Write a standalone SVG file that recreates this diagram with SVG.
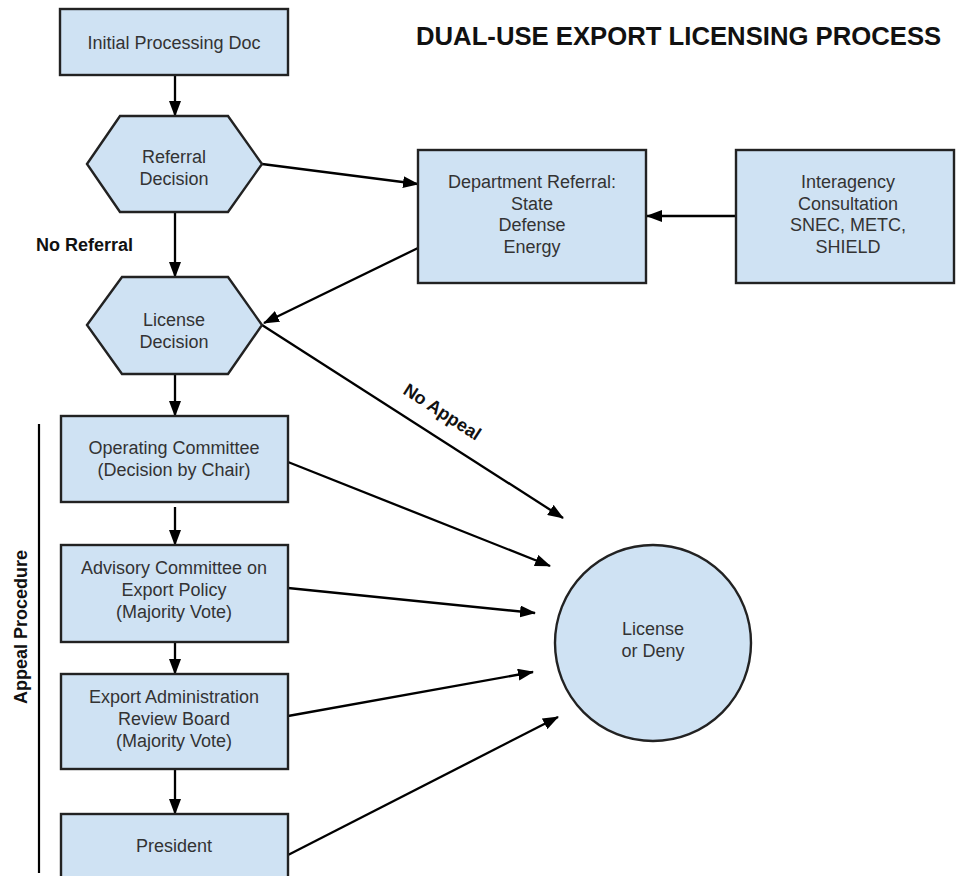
<svg xmlns="http://www.w3.org/2000/svg" width="956" height="876" viewBox="0 0 956 876">
<defs>
<marker id="ah" viewBox="0 0 16 12" refX="15" refY="6" markerWidth="16" markerHeight="12" markerUnits="userSpaceOnUse" orient="auto">
<path d="M0,0 L16,6 L0,12 z" fill="#000"/>
</marker>
<style>
.n{fill:#cfe2f3;stroke:#222;stroke-width:2.4}
.t{font-family:"Liberation Sans",Arial,sans-serif;font-size:18px;fill:#333;text-anchor:middle}
.b{font-family:"Liberation Sans",Arial,sans-serif;font-size:18px;font-weight:bold;fill:#111}
.c{fill:none;stroke:#000;stroke-width:2.3;marker-end:url(#ah)}
</style>
</defs>
<rect width="956" height="876" fill="#fff"/>
<text x="416" y="45" font-family="'Liberation Sans',Arial,sans-serif" font-size="25.7" font-weight="bold" fill="#111">DUAL-USE EXPORT LICENSING PROCESS</text>
<g id="connectors">
<line class="c" x1="175" y1="75" x2="175" y2="116"/>
<line class="c" x1="262" y1="164" x2="418" y2="184"/>
<line class="c" x1="736" y1="216" x2="647" y2="216"/>
<line class="c" x1="175" y1="212" x2="175" y2="277"/>
<line class="c" x1="418" y1="248" x2="264" y2="323"/>
<line class="c" x1="175" y1="374" x2="175" y2="416"/>
<line class="c" x1="262" y1="325" x2="563" y2="518"/>
<line class="c" x1="175" y1="507" x2="175" y2="545"/>
<line class="c" x1="175" y1="643" x2="175" y2="674"/>
<line class="c" x1="175" y1="770" x2="175" y2="814"/>
<line class="c" x1="288" y1="462" x2="550" y2="566"/>
<line class="c" x1="288" y1="588" x2="535" y2="613"/>
<line class="c" x1="288" y1="716" x2="533" y2="672"/>
<line class="c" x1="288" y1="855" x2="558" y2="717"/>
<text class="b" transform="translate(439,417) rotate(33)" text-anchor="middle">No Appeal</text>
<text class="b" x="36" y="251">No Referral</text>
</g>
<g id="appeal-procedure">
<line x1="39" y1="424" x2="39" y2="873" stroke="#000" stroke-width="2.2"/>
<text class="b" transform="translate(27,627) rotate(-90)" text-anchor="middle">Appeal Procedure</text>
</g>
<g id="initial">
<rect class="n" x="60" y="9" width="228" height="66"/>
<text class="t" x="174" y="49">Initial Processing Doc</text>
</g>
<g id="referral-decision">
<polygon class="n" points="87,164 120,116 228,116 262,164 228,212 120,212"/>
<text class="t" x="174" y="163">Referral</text>
<text class="t" x="174" y="185">Decision</text>
</g>
<g id="department-referral">
<rect class="n" x="418" y="150" width="228" height="133"/>
<text class="t" x="532" y="188">Department Referral:</text>
<text class="t" x="532" y="209.5">State</text>
<text class="t" x="532" y="231">Defense</text>
<text class="t" x="532" y="252.5">Energy</text>
</g>
<g id="interagency">
<rect class="n" x="736" y="150" width="218" height="133"/>
<text class="t" x="848" y="188">Interagency</text>
<text class="t" x="848" y="209.5">Consultation</text>
<text class="t" x="848" y="231">SNEC, METC,</text>
<text class="t" x="848" y="252.5">SHIELD</text>
</g>
<g id="license-decision">
<polygon class="n" points="87,325 122,277 228,277 262,325 228,374 122,374"/>
<text class="t" x="174" y="326">License</text>
<text class="t" x="174" y="348">Decision</text>
</g>
<g id="operating-committee">
<rect class="n" x="61" y="416" width="227" height="86"/>
<text class="t" x="174" y="454">Operating Committee</text>
<text class="t" x="174" y="476">(Decision by Chair)</text>
</g>
<g id="advisory-committee">
<rect class="n" x="61" y="545" width="227" height="97"/>
<text class="t" x="174" y="574">Advisory Committee on</text>
<text class="t" x="174" y="596">Export Policy</text>
<text class="t" x="174" y="618">(Majority Vote)</text>
</g>
<g id="export-admin">
<rect class="n" x="61" y="674" width="227" height="95"/>
<text class="t" x="174" y="703">Export Administration</text>
<text class="t" x="174" y="725">Review Board</text>
<text class="t" x="174" y="747">(Majority Vote)</text>
</g>
<g id="president">
<rect class="n" x="61" y="814" width="227" height="70"/>
<text class="t" x="174" y="852">President</text>
</g>
<g id="license-or-deny">
<circle class="n" cx="653" cy="643" r="98"/>
<text class="t" x="653" y="635">License</text>
<text class="t" x="653" y="657">or Deny</text>
</g>
</svg>
